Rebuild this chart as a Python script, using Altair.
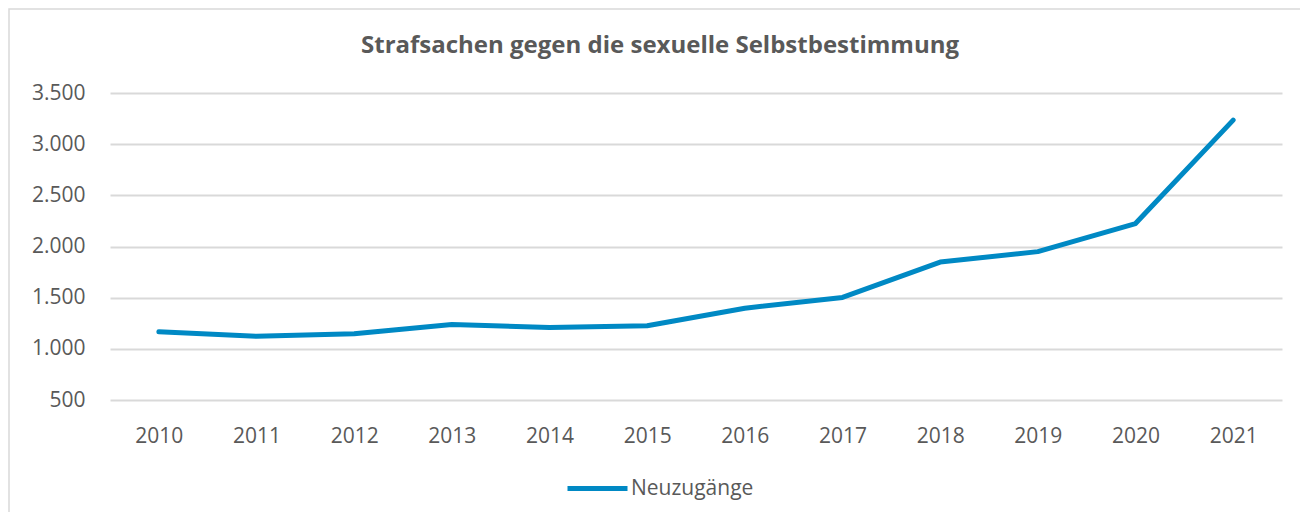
import altair as alt
import pandas as pd

years = ["2010", "2011", "2012", "2013", "2014", "2015",
         "2016", "2017", "2018", "2019", "2020", "2021"]
neuzugaenge = [1166, 1123, 1147, 1238, 1209, 1225,
               1397, 1502, 1848, 1950, 2224, 3235]
series_name = "Neuzugänge"
y_ticks = [500, 1000, 1500, 2000, 2500, 3000, 3500]
title_text = "Strafsachen gegen die sexuelle Selbstbestimmung"

df = pd.DataFrame({"Jahr": years, "Wert": neuzugaenge, "Reihe": series_name})

FONT = "Open Sans"
GRAY = "#595959"
GRID = "#d9d9d9"
BLUE = "#0089c4"

border = alt.Chart(pd.DataFrame({"b": [0]})).mark_rect(
    fill=None, stroke=GRID, strokeWidth=1.5
).encode(
    x=alt.value(-101), x2=alt.value(1400),
    y=alt.value(-84), y2=alt.value(700)
)

line = alt.Chart(df).mark_line(strokeWidth=5, strokeCap="round", strokeJoin="round").encode(
    x=alt.X("Jahr:O", sort=years, title=None,
            axis=alt.Axis(labelAngle=0, domain=False, ticks=False, grid=False,
                          labelPadding=25, labelFontSize=21, labelColor=GRAY,
                          labelFont=FONT)),
    y=alt.Y("Wert:Q", title=None,
            scale=alt.Scale(domain=[500, 3500], nice=False, zero=False),
            axis=alt.Axis(values=y_ticks, domain=False, ticks=False,
                          gridColor=GRID, gridWidth=2,
                          labelPadding=25, labelFontSize=21, labelColor=GRAY,
                          labelFont=FONT,
                          labelExpr="replace(format(datum.value, ','), ',', '.')")),
    color=alt.Color("Reihe:N", scale=alt.Scale(range=[BLUE]),
                    legend=alt.Legend(title=None, orient="none",
                                      legendX=455, legendY=363,
                                      symbolType="stroke", symbolSize=3600,
                                      symbolStrokeWidth=5,
                                      labelFontSize=21, labelColor=GRAY,
                                      labelFont=FONT, labelOffset=1)),
)

chart = alt.layer(border, line).properties(
    width=1172, height=307,
    autosize=alt.AutoSizeParams(type="none"),
    padding={"left": 102, "top": 85, "right": 18, "bottom": 112},
    title=alt.TitleParams(title_text, fontSize=24, font=FONT, fontWeight="bold",
                          color=GRAY, anchor="middle", frame="group",
                          dx=-36, dy=80, offset=30),
).configure(background="white").configure_view(stroke=None)

chart.save("out.html", embed_options={"renderer": "svg", "actions": False})
